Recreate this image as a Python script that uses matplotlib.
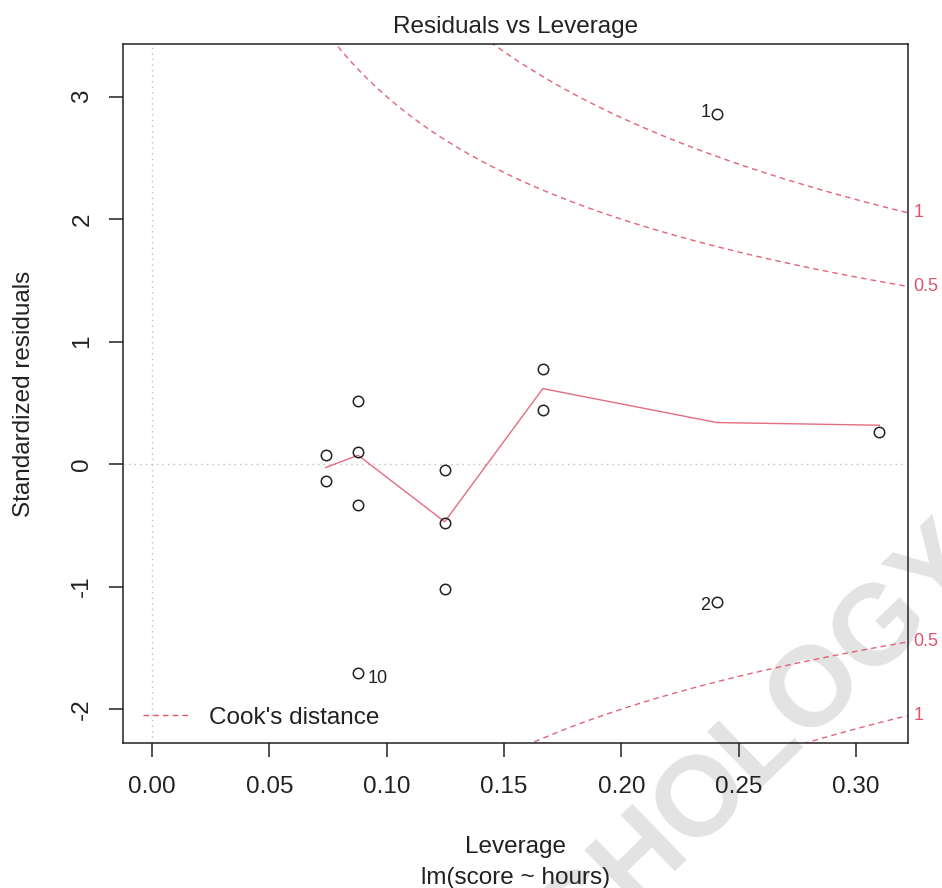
import numpy as np
import matplotlib
matplotlib.use("Agg")
import matplotlib.pyplot as plt
from matplotlib.lines import Line2D

plt.rcParams['font.family'] = ['Liberation Sans', 'DejaVu Sans']

# leverage (hat values) and standardized residuals
leverage = [0.2406, 0.2406, 0.3099, 0.1665, 0.1665, 0.1247, 0.1247, 0.1247,
            0.0878, 0.0878, 0.0878, 0.0878, 0.0740, 0.0740]
std_resid = [2.861, -1.123, 0.263, 0.777, 0.446, -0.049, -0.479, -1.022,
             0.516, 0.098, -0.334, -1.707, 0.073, -0.136]
point_ids = ['1', '2', '', '', '', '', '', '', '', '', '', '10', '', '']

# red smoother through the groups
smooth_x = [0.0740, 0.0878, 0.1247, 0.1665, 0.2406, 0.3099]
smooth_y = [-0.027, 0.073, -0.470, 0.617, 0.340, 0.318]

cook_levels = [0.5, 1]
n_params = 2

xticks = [0.00, 0.05, 0.10, 0.15, 0.20, 0.25, 0.30]
yticks = [-2, -1, 0, 1, 2, 3]

RED = '#DF536B'
FS = 17.5

fig = plt.figure(figsize=(9.42, 8.88), dpi=100)
ax = fig.add_axes((122.5 / 942, 1 - 743 / 888, 785.5 / 942, 699 / 888))
ax.set_facecolor('none')

xlim = (-0.01257, 0.3221)
ylim = (-2.276, 3.43)
ax.set_xlim(xlim)
ax.set_ylim(ylim)

ax.axhline(0, color='#BEBEBE', lw=1, ls=(0, (1, 3)), zorder=1)
ax.axvline(0, color='#BEBEBE', lw=1, ls=(0, (1, 3)), zorder=1)

ax.plot(smooth_x, smooth_y, color=RED, lw=1.0, alpha=0.85, zorder=2)
ax.plot(leverage, std_resid, ls='none', marker='o', ms=7.5, mfc='none',
        mec='#222222', mew=1.1, zorder=3)

# Cook's distance contours
hh = np.linspace(min(min(leverage), max(leverage) / 100), xlim[1], 101)
for lvl in cook_levels:
    cl = np.sqrt(lvl * n_params * (1 - hh) / hh)
    ax.plot(hh, cl, color=RED, lw=1.0, ls=(0, (4, 3)), alpha=0.9, zorder=2)
    ax.plot(hh, -cl, color=RED, lw=1.0, ls=(0, (4, 3)), alpha=0.9, zorder=2)
    yv = np.sqrt(lvl * n_params * (1 - xlim[1]) / xlim[1])
    for s in (1, -1):
        ax.annotate('%g' % lvl, (xlim[1], s * yv), xytext=(4, 0),
                    textcoords='offset points', ha='left', va='center',
                    color=RED, fontsize=13, annotation_clip=False)

# point labels
offsets = {'1': (-8.0, 1), '2': (-8, -3), '10': (14, -3.4)}
for x, y, lab in zip(leverage, std_resid, point_ids):
    if lab:
        ax.annotate(lab, (x, y), xytext=offsets[lab], textcoords='offset points',
                    ha='center', va='center', fontsize=13, color='#222222')

for sp in ax.spines.values():
    sp.set_linewidth(1.1)
    sp.set_color('#222222')

ax.set_xticks(xticks)
ax.set_xticklabels(['%.2f' % v for v in xticks])
ax.set_yticks(yticks)
ax.set_yticklabels([str(v) for v in yticks], rotation=90, va='center')
ax.tick_params(axis='both', labelsize=FS, length=10, width=1.1, color='#222222',
               labelcolor='#222222')
ax.tick_params(axis='x', pad=14)
ax.tick_params(axis='y', pad=11)

ax.set_title('Residuals vs Leverage', fontsize=FS, y=(743 - 27) / 699, pad=0,
             va='center', color='#222222')
ax.set_xlabel('Leverage', fontsize=FS, color='#222222', va='baseline')
ax.xaxis.set_label_coords(0.5, (743 - 853) / 699)
ax.text(0.5, (743 - 884) / 699, 'lm(score ~ hours)', transform=ax.transAxes,
        ha='center', va='baseline', fontsize=FS, color='#222222', clip_on=False)
ax.set_ylabel('Standardized residuals', fontsize=FS, color='#222222', va='center')
ax.yaxis.set_label_coords((24 - 122.5) / 785.5, 0.5)

handle = Line2D([], [], color=RED, lw=1.0, ls=(0, (4, 3)))
ax.legend([handle], ["Cook's distance"], loc='center left',
          bbox_to_anchor=((143 - 122.5) / 785.5, (743 - 718) / 699),
          frameon=False, fontsize=FS, borderpad=0, borderaxespad=0,
          handlelength=1.9, handletextpad=0.8, labelcolor='#222222')

# watermark
fig.text(698 / 942, 1 - 842 / 888, 'PSYCHOLOGY', rotation=44,
         rotation_mode='anchor', ha='center', va='baseline', fontsize=82,
         fontweight='bold', color='#E3E3E3', zorder=-1)

fig.savefig('out.png', dpi=100)
